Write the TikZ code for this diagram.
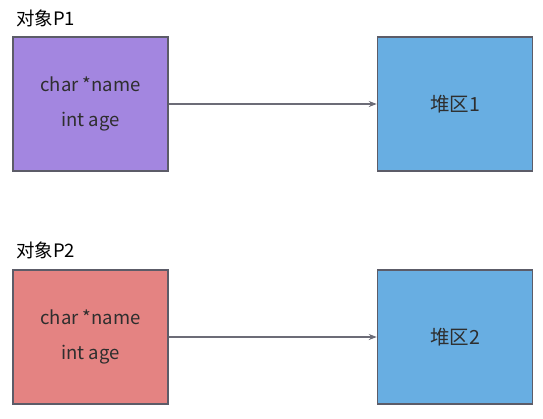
\documentclass[tikz,border=0pt]{standalone}
\usepackage{fontspec}
\setmainfont{Noto Sans CJK SC}
\usepackage{xcolor}
\usetikzlibrary{arrows.meta, positioning}
\definecolor{objpurple}{HTML}{A386E0}
\definecolor{objred}{HTML}{E48382}
\definecolor{heapblue}{HTML}{68AEE2}
\definecolor{edgegray}{HTML}{5C5C68}
\definecolor{txtdark}{HTML}{2E2E2E}

\begin{document}
\begin{tikzpicture}[
  x=1pt, y=-1pt,
  obj/.style={draw=edgegray, line width=1.5pt, minimum width=155pt, minimum height=134pt, align=center, font=\fontsize{18.5}{35}\selectfont, text=txtdark, inner sep=0pt},
  heap/.style={obj, fill=heapblue, font=\fontsize{19.5}{35}\selectfont},
  title/.style={anchor=west, font=\fontsize{18.5}{20}\selectfont, inner sep=0pt},
  arr/.style={-{Stealth[length=8pt, width=6pt]}, line width=1.2pt, draw=edgegray!90}
]
  \useasboundingbox (0,0) rectangle (543,418);

  % Object P1 and its heap
  \node[title] (t1) at (16,18) {对象P1};
  \node[obj, fill=objpurple] (p1) at (90.5,104) {char *name\\int age};
  \node[heap] (h1) at (455,104) {堆区1};

  % Object P2 and its heap
  \node[title] (t2) at (16,250) {对象P2};
  \node[obj, fill=objred] (p2) at (90.5,337) {char *name\\int age};
  \node[heap] (h2) at (455,337) {堆区2};

  % Pointers
  \draw[arr] (p1) -- (h1);
  \draw[arr] (p2) -- (h2);
\end{tikzpicture}
\end{document}
